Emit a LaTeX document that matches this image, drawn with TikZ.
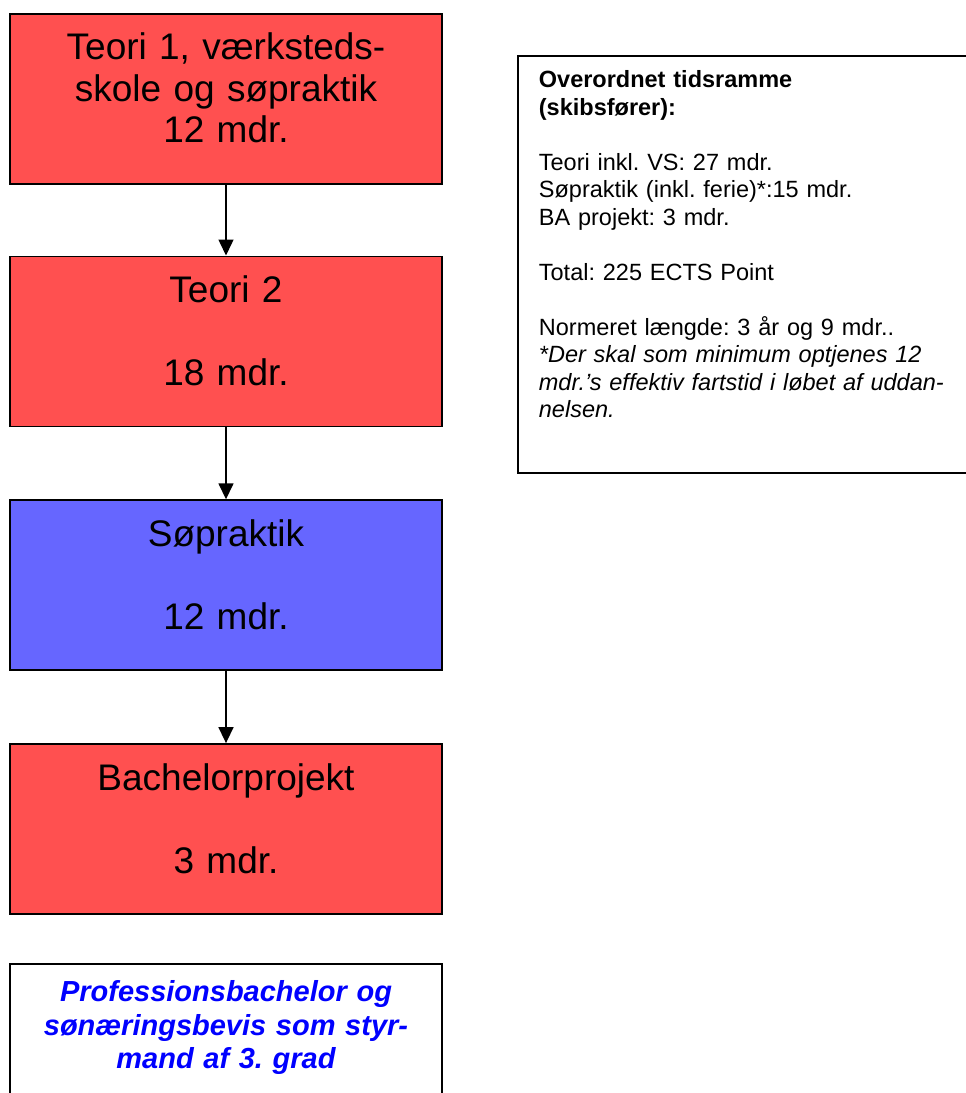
\documentclass[tikz,border=0pt]{standalone}
\usepackage{fontspec}
\setmainfont{Liberation Sans}
\frenchspacing
\usetikzlibrary{positioning, arrows.meta}
\definecolor{stage_red}{HTML}{FF5050}
\definecolor{stage_blue}{HTML}{6666FF}
\definecolor{degree_blue}{HTML}{0000FF}
\colorlet{stagered}{stage_red}
\colorlet{stageblue}{stage_blue}
\tikzset{
  stage/.style={rectangle,draw=black,line width=1.8pt,fill=stagered,inner sep=0pt,minimum width=432pt,text width=420pt,align=center,font=\fontsize{37}{41.5}\selectfont,text height=46pt,text depth=124pt},
  stage_b/.style={stage,fill=stageblue},
  degree/.style={stage,fill=white,text=degree_blue,font=\fontsize{29}{33.5}\selectfont\bfseries\itshape,text height=38pt,text depth=160pt},
  note/.style={rectangle,draw=black,line width=1.8pt,fill=white,inner xsep=21pt,inner ysep=0pt,text width=430pt,align=left,font=\fontsize{23.5}{27.5}\selectfont,text height=32pt,text depth=385pt},
  flow/.style={line width=1.5pt,-{Triangle[width=15pt,length=16pt]},black},
}
\begin{document}
\begin{tikzpicture}[x=1pt,y=-1pt]
  \useasboundingbox (0,0) rectangle (966,1093);
	    \node[stage,anchor=north] (T1) at (226,12.7) {Teori 1, værksteds-\\skole og søpraktik\\12 mdr.};
	    \node[stage,below=71pt of T1] (T2) {Teori 2\\[41.5pt]18 mdr.};
	    \node[stage_b,below=72pt of T2] (SP) {Søpraktik\\[41.5pt]12 mdr.};
	    \node[stage,below=72pt of SP] (BA) {Bachelorprojekt\\[41.5pt]3 mdr.};
	    \node[degree,below=48pt of BA] (PB) {Professionsbachelor og\\sønæringsbevis som styr-\\mand af 3. grad};
	    \node[note,anchor=north west] (RAMME) at (517,55) {\textbf{Overordnet tidsramme}\\\textbf{(skibsfører):}\\[27.5pt]
	      Teori inkl. VS: 27 mdr.\\Søpraktik (inkl. ferie)*:15 mdr.\\BA projekt: 3 mdr.\\[27.5pt]
	      Total: 225 ECTS Point\\[27.5pt]
	      Normeret længde: 3 år og 9 mdr..\\\textit{*Der skal som minimum optjenes 12}\\\textit{mdr.’s effektiv fartstid i løbet af uddan-}\\\textit{nelsen.}};
	    \draw[flow] (T1) -- (T2);
	    \draw[flow] (T2) -- (SP);
	    \draw[flow] (SP) -- (BA);
\end{tikzpicture}
\end{document}
